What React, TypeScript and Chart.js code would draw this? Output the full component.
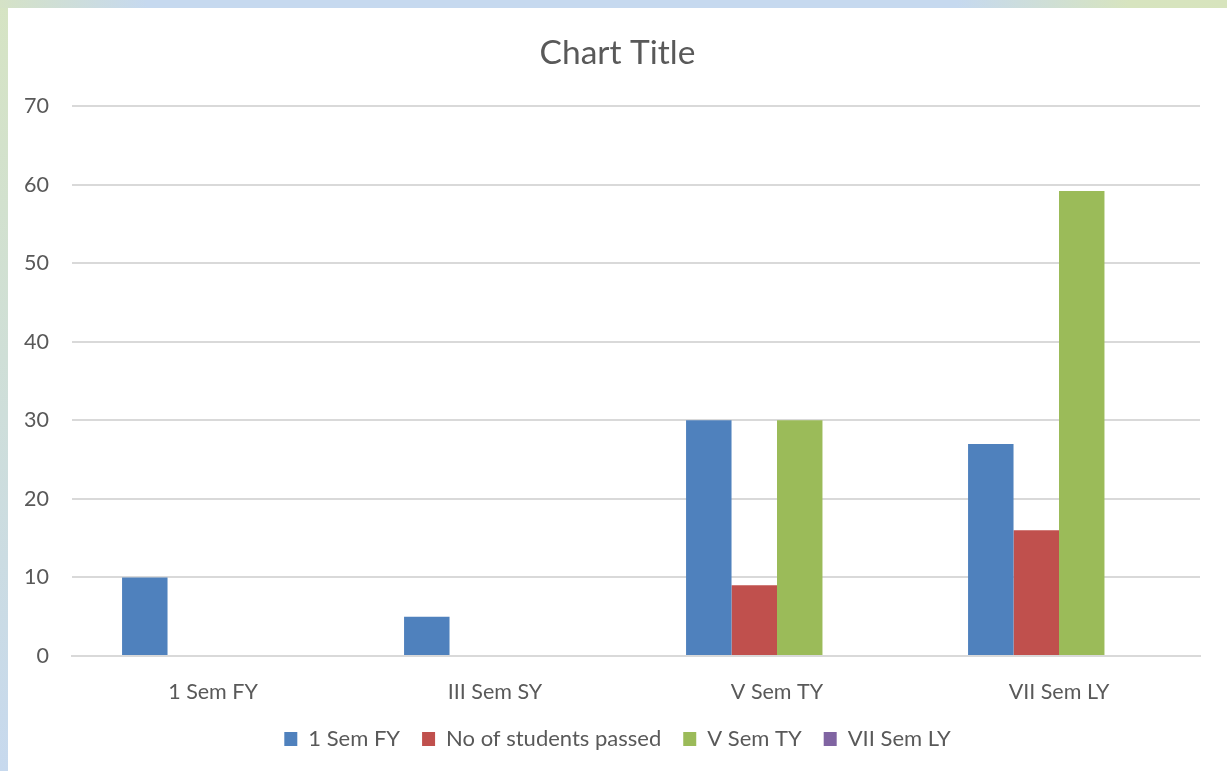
import React, { useEffect, useRef } from "react";
import { Chart, registerables } from "chart.js";

Chart.register(...registerables);

const categories = ["1 Sem FY", "III Sem SY", "V Sem TY", "VII Sem LY"];
const seriesNames = ["1 Sem FY", "No of students passed", "V Sem TY", "VII Sem LY"];
const series1 = [10, 5, 30, 27];
const series2 = [0, 0, 9, 16];
const series3 = [0, 0, 30, 59.2];
const series4 = [0, 0, 0, 0];
const colors = ["#4f81bd", "#c0504d", "#9bbb59", "#8064a2"];
const yTicks = [0, 10, 20, 30, 40, 50, 60, 70];

const FONT = "Lato, 'Open Sans', sans-serif";
const TEXT = "#595959";

export default function App() {
  const ref = useRef<HTMLCanvasElement>(null);
  useEffect(() => {
    if (!ref.current) return;
    const values = [series1, series2, series3, series4];
    const chart = new Chart(ref.current, {
      type: "bar",
      data: {
        labels: categories,
        datasets: seriesNames.map((name, i) => ({
          label: name,
          data: values[i],
          backgroundColor: colors[i],
          borderWidth: 0,
          barPercentage: 1,
          categoryPercentage: 0.645,
        })),
      },
      options: {
        responsive: false,
        animation: false,
        layout: { padding: { left: 0, right: 0, top: 25, bottom: 11 } },
        plugins: {
          title: {
            display: true,
            text: "Chart Title",
            color: TEXT,
            font: { family: FONT, size: 33.5, weight: "normal" },
            padding: { top: 0, bottom: 33 },
          },
          legend: {
            position: "bottom",
            labels: {
              color: TEXT,
              font: { family: FONT, size: 22 },
              boxWidth: 13,
              boxHeight: 14,
              padding: 22,
            },
          },
          tooltip: { enabled: false },
        },
        scales: {
          x: {
            grid: { display: false, drawTicks: false },
            border: { display: true, color: "#d9d9d9", width: 2 },
            ticks: { color: TEXT, font: { family: FONT, size: 21.5 }, padding: 23 },
            afterFit: (s: any) => {
              s.height = 50;
            },
          },
          y: {
            min: 0,
            max: 70,
            afterBuildTicks: (s: any) => {
              s.ticks = yTicks.map((v) => ({ value: v }));
            },
            afterFit: (s: any) => {
              s.width = 64;
            },
            grid: { color: "#d9d9d9", lineWidth: 2, drawTicks: false },
            border: { display: false },
            ticks: { color: TEXT, font: { family: FONT, size: 21.5 }, padding: 23 },
          },
          yRight: {
            position: "right",
            display: true,
            min: 0,
            max: 70,
            grid: { display: false, drawTicks: false },
            border: { display: false },
            ticks: { display: false },
            afterFit: (s: any) => {
              s.width = 27;
            },
          },
        },
      },
    });
    return () => chart.destroy();
  }, []);

  return (
    <div
      style={{
        position: "fixed",
        inset: 0,
        background: "linear-gradient(to bottom, #d6e4c3, #c7d9ee)",
      }}
    >
      <div
        style={{
          position: "absolute",
          left: 0,
          top: 0,
          right: 0,
          height: 8,
          background:
            "linear-gradient(to right, #d5e2c6 0%, #c6d9ef 12%, #c6d9ef 78%, #d7e4bf 92%, #d7e4bd 100%)",
        }}
      />
      <div
        style={{
          position: "absolute",
          left: 8,
          top: 8,
          right: 0,
          bottom: 0,
          background: "#ffffff",
        }}
      >
        <canvas ref={ref} width={1219} height={763} style={{ display: "block" }} />
      </div>
    </div>
  );
}
